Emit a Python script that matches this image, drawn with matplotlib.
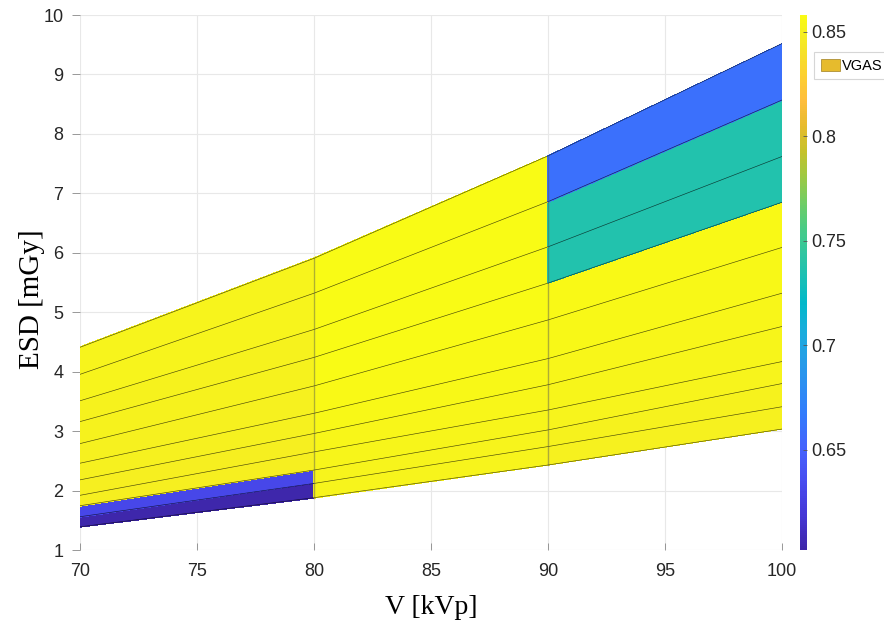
import numpy as np
import matplotlib
matplotlib.use('Agg')
import matplotlib.pyplot as plt
from matplotlib.colors import LinearSegmentedColormap, Normalize
from matplotlib.patches import Patch

# tube voltage grid
kvp = [70, 80, 90, 100]

# ESD along each kVp column, one entry per mAs row (bottom to top)
esd_70 = [1.39, 1.56, 1.745, 1.92, 2.18, 2.46, 2.79, 3.16, 3.51, 3.955, 4.41]
esd_80 = [1.88, 2.12, 2.345, 2.65, 2.96, 3.30, 3.76, 4.24, 4.71, 5.32, 5.907]
esd_90 = [2.43, 2.74, 3.02, 3.355, 3.78, 4.22, 4.87, 5.49, 6.10, 6.86, 7.63]
esd_100 = [3.035, 3.41, 3.80, 4.17, 4.76, 5.32, 6.09, 6.85, 7.62, 8.57, 9.52]

# VGAS score of each face (rows bottom to top) for the three kVp intervals
vgas_70_80 = [0.603, 0.630, 0.849, 0.849, 0.850, 0.850, 0.851, 0.851, 0.852, 0.852]
vgas_80_90 = [0.852, 0.852, 0.853, 0.854, 0.855, 0.856, 0.857, 0.858, 0.858, 0.858]
vgas_90_100 = [0.850, 0.851, 0.852, 0.853, 0.854, 0.855, 0.856, 0.736, 0.736, 0.659]

clim = (0.602, 0.858)

# parula colormap (sampled from the 64-entry table)
parula_idx = [0, 4, 8, 12, 16, 19, 23, 26, 29, 32, 35, 38, 41, 44, 47, 50, 53, 56, 59, 61, 63]
parula_rgb = [
    (0.2422, 0.1504, 0.6603), (0.2706, 0.2147, 0.8364), (0.2813, 0.3006, 0.9414),
    (0.2699, 0.3892, 0.9906), (0.1963, 0.4847, 0.9892), (0.1764, 0.5499, 0.9520),
    (0.1380, 0.6276, 0.8973), (0.0952, 0.6798, 0.8598), (0.0036, 0.7203, 0.7917),
    (0.0964, 0.7500, 0.7120), (0.1938, 0.7758, 0.6251), (0.2906, 0.7973, 0.5188),
    (0.4456, 0.8024, 0.3909), (0.6174, 0.7876, 0.2612), (0.7738, 0.7598, 0.1646),
    (0.9035, 0.7330, 0.1774), (0.9956, 0.7434, 0.2371), (0.9892, 0.8136, 0.1885),
    (0.9610, 0.8890, 0.1537), (0.9628, 0.9373, 0.1265), (0.9769, 0.9839, 0.0805),
]
parula = LinearSegmentedColormap.from_list(
    'parula', [(i / 63, c) for i, c in zip(parula_idx, parula_rgb)], N=256)

tick_font = ['Liberation Sans', 'DejaVu Sans']
serif_font = ['Liberation Serif', 'DejaVu Serif']

X = np.tile(np.array(kvp, dtype=float), (len(esd_70), 1))
Y = np.column_stack([esd_70, esd_80, esd_90, esd_100])
C = np.column_stack([vgas_70_80, vgas_80_90, vgas_90_100])

fig = plt.figure(figsize=(8.84, 6.28), dpi=100)
ax = fig.add_axes([0.0905, 0.1242, 0.7941, 0.8519])

norm = Normalize(*clim)
mesh = ax.pcolormesh(X, Y, C, cmap=parula, norm=norm, shading='flat',
                     edgecolors='face', linewidth=0.3, zorder=2)

# mesh lines
for r in range(Y.shape[0]):
    ax.plot(kvp, Y[r], color='black', lw=0.45, alpha=0.7, zorder=3)
for j in (1, 2):
    ax.plot([kvp[j], kvp[j]], [Y[0, j], Y[-1, j]], color='#555555',
            lw=1.0, alpha=0.45, zorder=3)

ax.set_xlim(70, 100)
ax.set_ylim(1, 10)
ax.set_xticks(np.arange(70, 101, 5))
ax.set_yticks(np.arange(1, 11, 1))
ax.grid(True, color='#e8e8e8', lw=0.8)
ax.set_axisbelow(True)
for s in ax.spines.values():
    s.set_visible(False)
ax.tick_params(width=0.6, color='#888888', labelsize=13, labelcolor='#262626')
ax.tick_params(axis='x', direction='in', length=5, pad=9)
ax.tick_params(axis='y', direction='out', length=6, pad=6)
for lab in ax.get_xticklabels() + ax.get_yticklabels():
    lab.set_family(tick_font)

ax.set_xlabel('V [kVp]', family=serif_font, fontsize=20, labelpad=11)
ax.set_ylabel('ESD [mGy]', family=serif_font, fontsize=21, va='center')
ax.yaxis.set_label_coords(-0.068, 0.469)

cax = fig.add_axes([0.9045, 0.1242, 0.0085, 0.8519])
cb = fig.colorbar(mesh, cax=cax)
cb.set_ticks([0.65, 0.7, 0.75, 0.8, 0.85])
cb.set_ticklabels(['0.65', '0.7', '0.75', '0.8', '0.85'])
cb.outline.set_visible(False)
cax.tick_params(direction='in', length=3, width=0.6, color='#555555',
                labelsize=13, labelcolor='#262626', pad=3)
for lab in cax.get_yticklabels():
    lab.set_family(tick_font)

leg = fig.legend(handles=[Patch(facecolor='#e6bb2d', edgecolor='#a08020', lw=0.5, label='VGAS')],
                 loc='upper left', bbox_to_anchor=(0.921, 0.917),
                 prop={'family': tick_font, 'size': 10.5},
                 frameon=True, fancybox=False, edgecolor='#cccccc',
                 handlelength=1.3, handleheight=0.9, handletextpad=0.15,
                 borderpad=0.45, borderaxespad=0.0)
leg.get_frame().set_linewidth(0.8)

fig.savefig('out.png', dpi=100)
